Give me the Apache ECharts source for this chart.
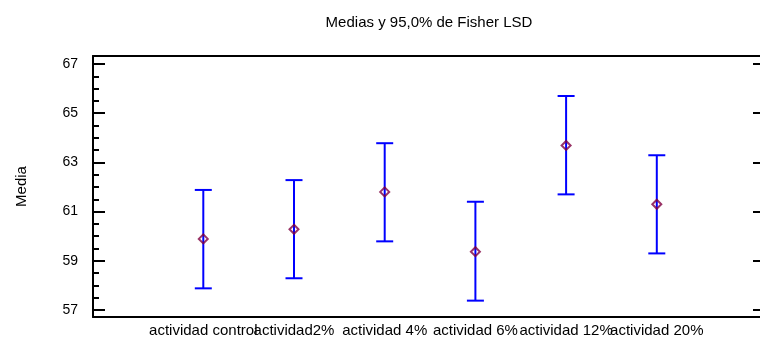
<!DOCTYPE html>
<html>
<head>
<meta charset="utf-8">
<script src="https://cdn.jsdelivr.net/npm/echarts@6/dist/echarts.min.js"></script>
<style>html,body{margin:0;padding:0;background:#fff}#c{width:760px;height:341px}</style>
</head>
<body>
<div id="c"></div>
<script>
const categories = ['actividad control', 'actividad2%', 'actividad 4%', 'actividad 6%', 'actividad 12%', 'actividad 20%'];
const means = [59.89, 60.28, 61.80, 59.37, 63.69, 61.30];
const lower = [57.88, 58.29, 59.79, 57.38, 61.70, 59.30];
const upper = [61.88, 62.28, 63.78, 61.40, 65.70, 63.29];
const majorTicks = [57, 59, 61, 63, 65, 67];
const minorTicks = [57.5, 58, 58.5, 59.5, 60, 60.5, 61.5, 62, 62.5, 63.5, 64, 64.5, 65.5, 66, 66.5];

const YMIN = 56.715, YMAX = 67.325;
const FONT = 'Liberation Sans';

const chart = echarts.init(document.getElementById('c'), null, {renderer: 'canvas'});
const errData = categories.map((c, i) => [c, lower[i], upper[i]]);
const meanData = categories.map((c, i) => [c, means[i]]);

chart.setOption({
  animation: false,
  backgroundColor: '#fff',
  title: {
    text: 'Medias y 95,0% de Fisher LSD',
    left: 424, top: 10, textAlign: 'center',
    textStyle: {fontFamily: FONT, fontSize: 15, fontWeight: 'normal', color: '#000'}
  },
  grid: [
    {left: 93, top: 56, right: 0, bottom: 24, containLabel: false},
    {left: 157.95, top: 56, right: 57.85, bottom: 24, containLabel: false}
  ],
  xAxis: [
    {
      gridIndex: 0, type: 'value', position: 'bottom', min: 0, max: 1,
      axisLine: {show: true, onZero: false, lineStyle: {color: '#000', width: 2}},
      axisTick: {show: false}, axisLabel: {show: false}, splitLine: {show: false}
    },
    {
      gridIndex: 0, type: 'value', position: 'top', min: 0, max: 1,
      axisLine: {show: true, onZero: false, lineStyle: {color: '#000', width: 2}},
      axisTick: {show: false}, axisLabel: {show: false}, splitLine: {show: false}
    },
    {
      gridIndex: 1, type: 'category', position: 'bottom', data: categories,
      axisLine: {show: false, onZero: false},
      axisTick: {show: false}, splitLine: {show: false},
      axisLabel: {interval: 0, margin: 6, color: '#000', fontFamily: FONT, fontSize: 15, hideOverlap: false}
    }
  ],
  yAxis: [
    {
      gridIndex: 0, type: 'value', position: 'left', min: YMIN, max: YMAX,
      name: 'Media', nameLocation: 'middle', nameGap: 64, nameRotate: 90,
      nameTextStyle: {fontFamily: FONT, fontSize: 15, color: '#000'},
      axisLine: {show: true, onZero: false, lineStyle: {color: '#000', width: 2}},
      axisTick: {show: true, inside: true, length: 12, customValues: majorTicks, lineStyle: {color: '#000', width: 2}},
      axisLabel: {customValues: majorTicks, margin: 15, color: '#000', fontFamily: FONT, fontSize: 14},
      splitLine: {show: false}
    },
    {
      gridIndex: 0, type: 'value', position: 'left', min: YMIN, max: YMAX,
      axisLine: {show: false, onZero: false},
      axisTick: {show: true, inside: true, length: 6, customValues: minorTicks, lineStyle: {color: '#000', width: 2}},
      axisLabel: {show: false}, splitLine: {show: false}
    },
    {
      gridIndex: 0, type: 'value', position: 'right', min: YMIN, max: YMAX,
      axisLine: {show: false, onZero: false},
      axisTick: {show: true, inside: true, length: 7, customValues: majorTicks, lineStyle: {color: '#000', width: 2}},
      axisLabel: {show: false}, splitLine: {show: false}
    },
    {
      gridIndex: 1, type: 'value', min: YMIN, max: YMAX,
      axisLine: {show: false, onZero: false}, axisTick: {show: false},
      axisLabel: {show: false}, splitLine: {show: false}
    }
  ],
  series: [
    {
      type: 'custom', xAxisIndex: 2, yAxisIndex: 3,
      encode: {x: 0, y: [1, 2]},
      data: errData,
      renderItem: function (params, api) {
        const x = api.value(0);
        const lo = api.coord([x, api.value(1)]);
        const hi = api.coord([x, api.value(2)]);
        const hw = 8.5;
        const style = {stroke: '#0000ff', lineWidth: 2, fill: null};
        return {
          type: 'group',
          children: [
            {type: 'line', shape: {x1: lo[0], y1: lo[1], x2: hi[0], y2: hi[1]}, style: style},
            {type: 'line', shape: {x1: lo[0] - hw, y1: lo[1], x2: lo[0] + hw, y2: lo[1]}, style: style},
            {type: 'line', shape: {x1: hi[0] - hw, y1: hi[1], x2: hi[0] + hw, y2: hi[1]}, style: style}
          ]
        };
      },
      z: 2
    },
    {
      type: 'scatter', xAxisIndex: 2, yAxisIndex: 3,
      data: meanData,
      symbol: 'diamond', symbolSize: [9, 9],
      itemStyle: {color: 'rgba(255,255,255,0)', borderColor: '#800040', borderWidth: 2},
      z: 3
    }
  ]
});
</script>
</body>
</html>
